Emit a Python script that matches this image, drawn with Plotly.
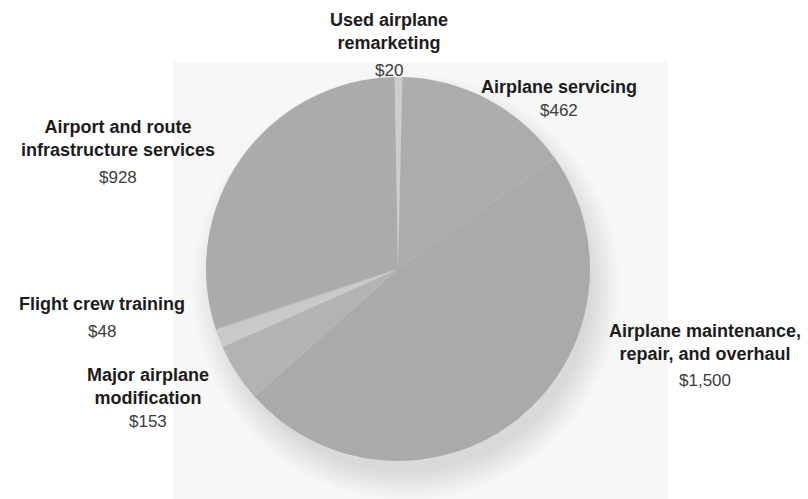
import plotly.graph_objects as go

# Commercial aviation services market segments ($ billions)
segments = [
    "Used airplane<br>remarketing",
    "Airplane servicing",
    "Airplane maintenance,<br>repair, and overhaul",
    "Major airplane<br>modification",
    "Flight crew training",
    "Airport and route<br>infrastructure services",
]
values = [20, 462, 1500, 153, 48, 928]
slice_colors = ["#cdcdcd", "#acacac", "#aaaaaa", "#b3b3b3", "#c9c9c9", "#ababab"]

# label placement in pixels: centre x, name-block centre y, value-line centre y
label_px = [389, 559, 705, 148, 102, 118]
name_py = [32, 87, 342, 386, 304, 138]
value_py = [70, 110, 380, 421, 331, 177]

W, H = 808, 499
cx, cy, diam = 398, 269, 384

fig = go.Figure()
fig.add_trace(go.Pie(
    labels=[s.replace("<br>", " ") for s in segments],
    values=values,
    sort=False,
    direction="clockwise",
    rotation=-1,
    marker=dict(colors=slice_colors, line=dict(width=0)),
    textinfo="none",
    hoverinfo="label+value",
    showlegend=False,
    domain=dict(
        x=[(cx - diam / 2) / W, (cx + diam / 2) / W],
        y=[1 - (cy + diam / 2) / H, 1 - (cy - diam / 2) / H],
    ),
))

shapes = [
    # pale backdrop panel behind the pie
    dict(type="rect", xref="paper", yref="paper", layer="below",
         x0=173 / W, x1=668 / W, y0=0, y1=1 - 62 / H,
         fillcolor="#f7f7f7", line=dict(width=0)),
]
# soft drop shadow under the pie, offset down and to the right
for i in range(10):
    r = diam / 2 - 6 + i * 3
    ox, oy = cx + 8, cy + 18
    shapes.append(dict(
        type="circle", xref="paper", yref="paper", layer="below",
        x0=(ox - r) / W, x1=(ox + r) / W,
        y0=1 - (oy + r) / H, y1=1 - (oy - r) / H,
        fillcolor="rgba(0,0,0,0.013)", line=dict(width=0)))

font_family = "Liberation Sans, Arial, sans-serif"
annotations = []
for name, v, px, ny, vy in zip(segments, values, label_px, name_py, value_py):
    annotations.append(dict(
        x=px / W, y=1 - ny / H, xref="paper", yref="paper",
        text=f"<b>{name}</b>", showarrow=False,
        xanchor="center", yanchor="middle", align="center",
        font=dict(family=font_family, size=18, color="#1c1c1c")))
    annotations.append(dict(
        x=px / W, y=1 - vy / H, xref="paper", yref="paper",
        text=f"${v:,}", showarrow=False,
        xanchor="center", yanchor="middle", align="center",
        font=dict(family=font_family, size=17, color="#3c3c3c")))

fig.update_layout(
    width=W, height=H,
    margin=dict(l=0, r=0, t=0, b=0),
    paper_bgcolor="white",
    plot_bgcolor="white",
    shapes=shapes,
    annotations=annotations,
)

fig.write_html("out.html")
